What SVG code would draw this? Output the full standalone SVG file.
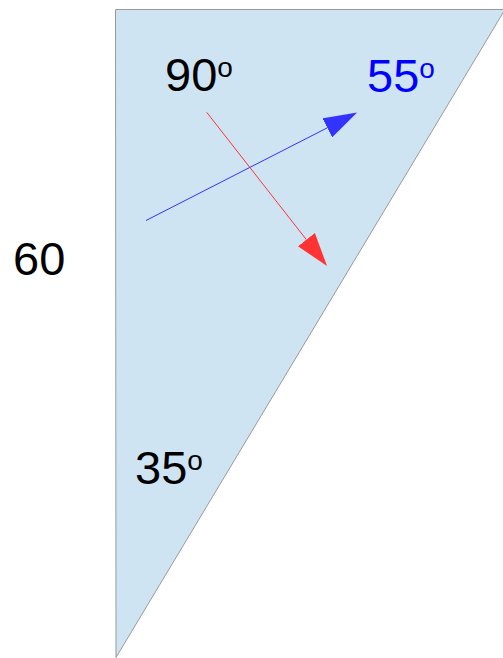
<svg xmlns="http://www.w3.org/2000/svg" width="503" height="658" viewBox="0 0 503 658">
  <style>
    .lbl { font-family: "Liberation Sans", Arial, sans-serif; font-size: 47px; fill: #000; }
    .sup { font-size: 28px; }
    .blue { fill: #0000ff; }
  </style>
  <defs>
    <marker id="ahBlue" markerUnits="userSpaceOnUse" viewBox="0 -11 34 22" markerWidth="34" markerHeight="22" refX="0" refY="0" orient="auto">
      <path d="M0,-10.7 L33.5,0 L0,10.7 Z" fill="#3333ff"/>
    </marker>
    <marker id="ahRed" markerUnits="userSpaceOnUse" viewBox="0 -11 34 22" markerWidth="34" markerHeight="22" refX="0" refY="0" orient="auto">
      <path d="M0,-10.7 L33.5,0 L0,10.7 Z" fill="#ff3333"/>
    </marker>
  </defs>
  <rect width="503" height="658" fill="#ffffff"/>
  <g id="triangle">
    <polygon points="115.5,9.5 505,9.5 116,657.5" fill="#cfe4f3" stroke="#999999" stroke-width="1"/>
  </g>
  <g id="label-90">
    <text class="lbl" x="165" y="91">90<tspan class="sup" dy="-14">o</tspan></text>
  </g>
  <g id="label-55">
    <text class="lbl blue" x="367" y="92">55<tspan class="sup" dy="-14">o</tspan></text>
  </g>
  <g id="label-35">
    <text class="lbl" x="135" y="484">35<tspan class="sup" dy="-14">o</tspan></text>
  </g>
  <g id="label-60">
    <text class="lbl" x="13" y="275">60</text>
  </g>
  <g id="connectors">
    <line x1="146" y1="220.5" x2="327.3" y2="127.8" stroke="#3333ff" stroke-width="1" marker-end="url(#ahBlue)"/>
    <line x1="206.7" y1="112.3" x2="306.4" y2="239.7" stroke="#ff3333" stroke-width="1" marker-end="url(#ahRed)"/>
  </g>
</svg>
